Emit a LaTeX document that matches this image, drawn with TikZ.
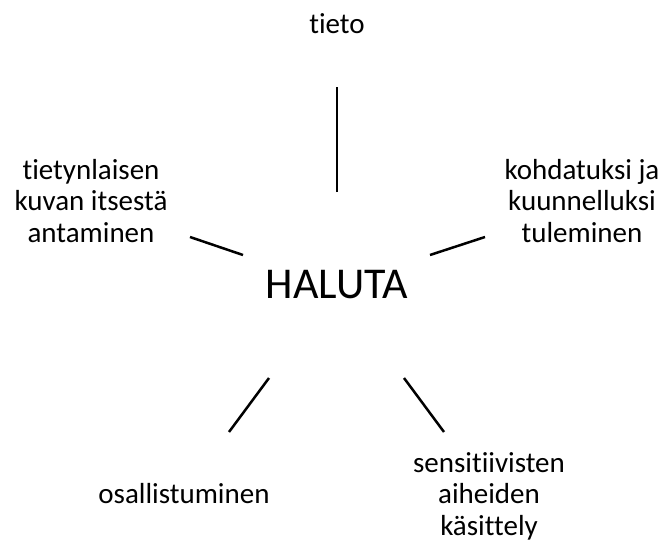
\documentclass[tikz,border=0pt]{standalone}
\usepackage{fontspec}
\setmainfont{Carlito}[Ligatures=NoCommon]
\usepackage{tikz}
\usetikzlibrary{positioning}

\begin{document}
\begin{tikzpicture}[x=1pt, y=-1pt,
  sana/.style={align=center, anchor=base, inner sep=0pt,
    font=\fontsize{29}{31.5}\selectfont},
  keski/.style={anchor=base, inner sep=0pt, font=\fontsize{44}{50}\selectfont},
  puola/.style={line width=2.5pt, black}]
  \useasboundingbox (0,0) rectangle (662,541);
  % keskus ja sanat (monirivisissä base = viimeisen rivin perusviiva)
  \node[keski] (haluta) at (337,298) {HALUTA};
  \node[sana] (tieto) at (337,33) {tieto};
  \node[sana] (kuva) at (91,242) {tietynlaisen\\kuvan itsestä\\antaminen};
  \node[sana] (kohdatuksi) at (582,242) {kohdatuksi ja\\kuunnelluksi\\tuleminen};
  \node[sana] (osallistuminen) at (184,503) {osallistuminen};
  \node[sana] (sensitiivisten) at (489,535) {sensitiivisten\\aiheiden\\käsittely};
  % puolien päät
  \coordinate (y1) at (337,192); \coordinate (y2) at (337,87);
  \coordinate (v1) at (243,255); \coordinate (v2) at (190,237);
  \coordinate (o1) at (430,255); \coordinate (o2) at (485,237);
  \coordinate (av1) at (269,378); \coordinate (av2) at (229,432);
  \coordinate (ao1) at (404,378); \coordinate (ao2) at (444,432);
  \draw[puola] (y1) -- (y2);
  \draw[puola] (v1) -- (v2);
  \draw[puola] (o1) -- (o2);
  \draw[puola] (av1) -- (av2);
  \draw[puola] (ao1) -- (ao2);
\end{tikzpicture}
\end{document}
